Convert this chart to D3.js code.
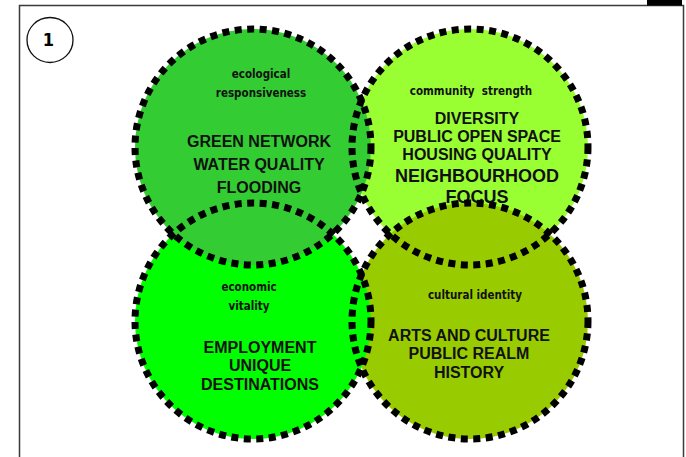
<!DOCTYPE html>
<html>
<head>
<meta charset="utf-8">
<script src="https://cdn.jsdelivr.net/npm/d3@7"></script>
<style>
  body{margin:0;background:#fff;}
  svg{display:block;}
</style>
</head>
<body>
<div class="venn"></div>
<script>
// data
var themes=["ecological responsiveness","community strength","economic vitality","cultural identity"]
var themeLines=[["ecological","responsiveness"],["community  strength"],["economic","vitality"],["cultural identity"]]
var items=[
  ["GREEN NETWORK","WATER QUALITY","FLOODING"],
  ["DIVERSITY","PUBLIC OPEN SPACE","HOUSING QUALITY","NEIGHBOURHOOD","FOCUS"],
  ["EMPLOYMENT","UNIQUE","DESTINATIONS"],
  ["ARTS AND CULTURE","PUBLIC REALM","HISTORY"]
]
var cols=["left","right","left","right"]
var rows=["top","top","bottom","bottom"]
var colors=["#33cc33","#99ff33","#00ff00","#99cc00"]
var panelNumber="1"

// layout (offsets from each circle centre)
var layout=[
  {tx:8,ty:[-69,-50],ix:6,iy:[0,23,46],isz:[16,16,16]},
  {tx:1,ty:[-52],ix:7,iy:[-23,-5,13,35,56],isz:[16,16,16,18,18]},
  {tx:-4,ty:[-30,-11],ix:7,iy:[32,50,69],isz:[16,16,16]},
  {tx:5,ty:[-22],ix:-1,iy:[20,38,57],isz:[16,16,16]}
]
var drawOrder=[1,3,2,0]

var drawVenn=function(){
  var screen={width:686,height:457}
  var svg=d3.select(".venn").append("svg")
      .attr("id","vennsvg")
      .attr("width",screen.width)
      .attr("height",screen.height)

  // frame
  svg.append("rect")
      .attr("x",19.5).attr("y",5.5)
      .attr("width",664).attr("height",500)
      .style("fill","none")
      .style("stroke","#3a3a3a")
      .attr("stroke-width",1.5)
  svg.append("rect")
      .attr("x",647).attr("y",0)
      .attr("width",35).attr("height",5.5)
      .style("fill","#000")

  // panel number
  svg.append("ellipse")
      .attr("cx",50).attr("cy",40)
      .attr("rx",23).attr("ry",22.5)
      .style("fill","none")
      .style("stroke","#111")
      .attr("stroke-width",1.3)
  svg.append("text")
      .attr("x",48.5).attr("y",45.5)
      .attr("text-anchor","middle")
      .attr("font-family","DejaVu Sans Condensed, DejaVu Sans")
      .attr("font-weight","bold")
      .attr("font-size",18)
      .text(panelNumber)

  var xScale=d3.scalePoint().domain(["left","right"]).range([253,470])
  var yScale=d3.scalePoint().domain(["top","bottom"]).range([147,321])
  var r=118

  var fills=svg.append("g").attr("id","fills")
  fills.selectAll("circle")
      .data(drawOrder)
      .enter().append("circle")
      .attr("cx",function(i){return xScale(cols[i])})
      .attr("cy",function(i){return yScale(rows[i])})
      .attr("r",r)
      .style("fill",function(i){return colors[i]})

  var labels=svg.append("g").attr("id","labels")
  themes.forEach(function(t,i){
    var cx=xScale(cols[i]),cy=yScale(rows[i]),l=layout[i]
    var g=labels.append("g").attr("class","theme").attr("data-theme",t)
    g.selectAll("text.sub")
        .data(themeLines[i])
        .enter().append("text")
        .attr("class","sub")
        .attr("x",cx+l.tx)
        .attr("y",function(d,j){return cy+l.ty[j]})
        .attr("text-anchor","middle")
        .attr("font-family","DejaVu Sans Condensed, DejaVu Sans")
        .attr("font-weight","bold")
        .attr("font-size",11.5)
        .style("white-space","pre")
        .style("fill","#111")
        .text(function(d){return d})
    g.selectAll("text.item")
        .data(items[i])
        .enter().append("text")
        .attr("class","item")
        .attr("x",cx+l.ix)
        .attr("y",function(d,j){return cy+l.iy[j]})
        .attr("text-anchor","middle")
        .attr("font-family","Liberation Sans, Arial, sans-serif")
        .attr("font-weight","bold")
        .attr("font-size",function(d,j){return l.isz[j]})
        .style("fill","#111")
        .text(function(d){return d})
  })

  var outlines=svg.append("g").attr("id","outlines")
  outlines.selectAll("circle")
      .data(drawOrder)
      .enter().append("circle")
      .attr("cx",function(i){return xScale(cols[i])})
      .attr("cy",function(i){return yScale(rows[i])})
      .attr("r",r)
      .style("fill","none")
      .style("stroke","#000")
      .attr("stroke-width",7)
      .attr("stroke-dasharray","7,5.5")
}

drawVenn()
</script>
</body>
</html>
